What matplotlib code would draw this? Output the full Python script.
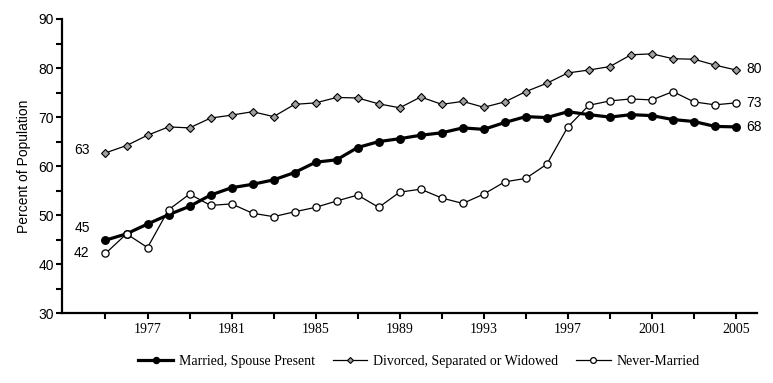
import matplotlib
matplotlib.use("Agg")
import matplotlib.pyplot as plt
from matplotlib.ticker import MultipleLocator, FixedLocator

years = list(range(1975, 2006))

married = [44.9, 46.2, 48.2, 50.1, 51.8, 54.1, 55.6, 56.3, 57.2, 58.7,
           60.8, 61.3, 63.8, 65.0, 65.6, 66.3, 66.8, 67.8, 67.5, 68.9,
           70.1, 69.9, 71.1, 70.5, 70.0, 70.5, 70.3, 69.5, 69.1, 68.1, 68.0]

divorced = [62.7, 64.2, 66.3, 68.0, 67.8, 69.8, 70.4, 71.1, 70.1, 72.6,
            72.9, 74.0, 73.9, 72.7, 71.9, 74.1, 72.6, 73.2, 72.0, 73.1,
            75.2, 76.9, 79.0, 79.6, 80.3, 82.7, 82.9, 81.9, 81.8, 80.6, 79.6]

never = [42.2, 46.2, 43.4, 51.1, 54.3, 52.0, 52.3, 50.4, 49.7, 50.7,
         51.6, 52.9, 54.1, 51.6, 54.7, 55.3, 53.5, 52.4, 54.3, 56.8,
         57.5, 60.4, 68.0, 72.4, 73.3, 73.7, 73.5, 75.2, 73.1, 72.5, 72.9]

labels = ["Married, Spouse Present", "Divorced, Separated or Widowed", "Never-Married"]
start_labels = ["45", "63", "42"]
end_labels = ["68", "80", "73"]

xtick_labels = ["1977", "1981", "1985", "1989", "1993", "1997", "2001", "2005"]
ytick_labels = ["30", "40", "50", "60", "70", "80", "90"]

sans = "Liberation Sans"
serif = "Liberation Serif"

fig = plt.figure(figsize=(7.73, 3.83), dpi=100)
ax = fig.add_axes([0.0802, 0.182, 0.8991, 0.7684])

ax.plot(years, married, color="black", lw=2.3, marker="o", ms=5.4,
        mfc="black", mec="black", label=labels[0], zorder=3)
ax.plot(years, divorced, color="black", lw=0.9, marker="D", ms=3.8,
        mfc="#a0a0a0", mec="black", mew=0.8, label=labels[1], zorder=2)
ax.plot(years, never, color="black", lw=0.9, marker="o", ms=5.2,
        mfc="white", mec="black", mew=0.9, label=labels[2], zorder=4)

ax.set_xlim(1972.93, 2006.0)
ax.set_ylim(30, 90)

# start / end value labels
fs_lab = 10
ax.text(1974.25, married[0] + 2.5, start_labels[0], ha="right", va="center",
        fontsize=fs_lab, family=sans)
ax.text(1974.25, divorced[0] + 0.6, start_labels[1], ha="right", va="center",
        fontsize=fs_lab, family=sans)
ax.text(1974.25, never[0], start_labels[2], ha="right", va="center",
        fontsize=fs_lab, family=sans)
ax.text(2005.5, married[-1], end_labels[0], ha="left", va="center",
        fontsize=fs_lab, family=sans, clip_on=False)
ax.text(2005.5, divorced[-1] + 0.3, end_labels[1], ha="left", va="center",
        fontsize=fs_lab, family=sans, clip_on=False)
ax.text(2005.5, never[-1], end_labels[2], ha="left", va="center",
        fontsize=fs_lab, family=sans, clip_on=False)

ax.spines["top"].set_visible(False)
ax.spines["right"].set_visible(False)
ax.spines["left"].set_linewidth(1.6)
ax.spines["bottom"].set_linewidth(1.6)

ax.xaxis.set_major_locator(FixedLocator([int(y) for y in xtick_labels]))
ax.xaxis.set_minor_locator(FixedLocator(list(range(1975, 2006, 4))))
ax.set_xticklabels(xtick_labels, family=serif, fontsize=10)
ax.yaxis.set_major_locator(FixedLocator([int(v) for v in ytick_labels]))
ax.yaxis.set_minor_locator(MultipleLocator(5))
ax.set_yticklabels(ytick_labels, family=sans, fontsize=10)
ax.tick_params(which="both", direction="out", length=4, width=1.5, color="black")
ax.tick_params(axis="x", pad=3)
ax.tick_params(axis="y", pad=2)

ax.set_ylabel("Percent of Population", family=sans, fontsize=10, labelpad=5)

fig.legend(loc="center", bbox_to_anchor=(0.542, 0.057), ncol=3, frameon=False,
           prop={"family": serif, "size": 10}, handlelength=2.5,
           columnspacing=1.3, handletextpad=0.4, markerscale=0.8)

fig.savefig("out.png", dpi=100)
